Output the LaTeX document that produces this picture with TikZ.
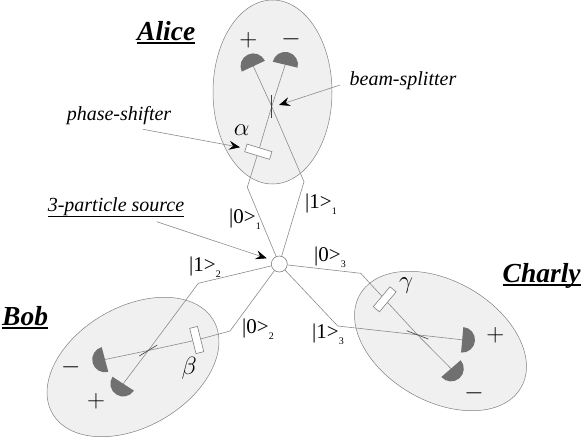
\documentclass[tikz,border=0pt]{standalone}
\usepackage{fontspec}
\setmainfont{Liberation Serif}
\usetikzlibrary{arrows.meta}
\definecolor{labfill}{gray}{0.94}
\definecolor{detfill}{gray}{0.44}
\definecolor{rayline}{gray}{0.55}
\newcommand{\ketlabel}[2]{|#1>\raisebox{-6pt}{\fontsize{10}{10}\selectfont #2}}
\newcommand{\ruled}[3]{\setbox0=\hbox{#1}\rlap{\rule[-#2]{\wd0}{#3}}\box0}
\newcommand{\detector}[2]{\fill[detfill] (#1) ++(#2:12.8) arc (#2:#2-180:12.8) -- cycle;}
\tikzset{
  lab/.style={draw=gray, fill=labfill, line width=0.5pt},
  ray/.style={draw=rayline, line width=0.6pt},
  splitter/.style={draw=black!75, line width=0.6pt},
  shifter/.style={draw=gray, fill=white, line width=0.6pt, minimum width=26pt, minimum height=8pt, inner sep=0pt},
  pointer/.style={draw=rayline, line width=0.6pt, -{Stealth[black, length=11pt, width=9pt, inset=4pt]}},
  party/.style={font=\fontsize{27.5}{28}\selectfont\bfseries\itshape, anchor=base west, inner sep=0pt},
  caption/.style={font=\fontsize{20}{20}\selectfont\itshape, inner sep=0pt},
  ket/.style={font=\fontsize{21}{21}\selectfont, inner sep=0pt},
  symb/.style={font=\fontsize{23}{23}\selectfont, inner sep=0pt}
}
\begin{document}
\begin{tikzpicture}[x=1pt, y=-1pt]
\useasboundingbox (0,0) rectangle (581,437);
\fill[white] (0,0) rectangle (581,437);
\draw[lab] (272.5,92) ellipse (59.5 and 92);
\draw[lab, rotate around={30:(133,367)}] (133,367) ellipse (93 and 60);
\draw[lab, rotate around={-30:(440.5,341)}] (440.5,341) ellipse (93 and 60);

\node[circle, draw=gray, fill=white, line width=0.6pt, minimum size=16pt, inner sep=0pt] (source) at (279.3,264) {};
\node[shifter, rotate=-17] (alicephase) at (258.3,151.7) {};
\node[shifter, rotate=-76] (bobphase) at (196.7,340) {};
\node[shifter, rotate=50] (charlyphase) at (384.7,299.3) {};

\coordinate (alicezero) at (247.3,187.3);
\coordinate (aliceone) at (304,181.7);
\coordinate (alicebs) at (271.7,106.5);
\coordinate (alicedetp) at (253.3,66.2);
\coordinate (alicedetm) at (285.2,64.7);
\coordinate (bobone) at (198.3,283.3);
\coordinate (bobzero) at (230,331);
\coordinate (bobbs) at (148.3,350.5);
\coordinate (bobdetm) at (105,359.5);
\coordinate (bobdetp) at (123.2,383.7);
\coordinate (charlyzero) at (360.7,273.3);
\coordinate (charlyone) at (337.7,326);
\coordinate (charlybs) at (417.5,334.8);
\coordinate (charlydetp) at (462.2,339.8);
\coordinate (charlydetm) at (451,368.6);

\draw[ray] (source) -- (alicezero) -- (alicephase) -- (alicebs) -- (alicedetm);
\draw[ray] (source) -- (aliceone) -- (alicebs) -- (alicedetp);
\draw[ray] (source) -- (bobone) -- (bobbs) -- (bobdetp);
\draw[ray] (source) -- (bobzero) -- (bobphase) -- (bobbs) -- (bobdetm);
\draw[ray] (source) -- (charlyzero) -- (charlyphase) -- (charlybs) -- (charlydetm);
\draw[ray] (source) -- (charlyone) -- (charlybs) -- (charlydetp);

\draw[splitter] (271.7,95) -- (271.7,118.3);
\draw[splitter] (139.3,356) -- (157.3,345);
\draw[splitter] (406.7,330.7) -- (428.3,339);

\detector{alicedetp}{-25}
\detector{alicedetm}{13.5}
\detector{bobdetm}{-105}
\detector{bobdetp}{213}
\detector{charlydetp}{95}
\detector{charlydetm}{139}

\node[party] (alice) at (137,40) {\ruled{Alice}{4pt}{2pt}};
\node[party] (bob) at (2,325) {\ruled{Bob}{4pt}{2pt}};
\node[party] (charly) at (502.5,282) {\ruled{Charly}{4pt}{2pt}};

\node[caption] (beamlabel) at (403,81) {beam-splitter};
\node[caption] (phaselabel) at (119,116) {phase-shifter};
\node[caption] (sourcelabel) at (116,207) {\ruled{3-particle source}{5pt}{0.9pt}};

\coordinate (beamfoot) at (340,85);
\coordinate (beamtip) at (279,105);
\coordinate (phasefoot) at (143,129.3);
\coordinate (phasetip) at (240,147.3);
\coordinate (sourcefoot) at (156.7,221.7);
\coordinate (sourcetip) at (266.7,258.3);
\draw[pointer] (beamfoot) -- (beamtip);
\draw[pointer] (phasefoot) -- (phasetip);
\draw[pointer] (sourcefoot) -- (sourcetip);

\node[ket] (ketaz) at (245,219) {\ketlabel{0}{1}};
\node[ket] (ketao) at (321,204) {\ketlabel{1}{1}};
\node[ket] (ketbo) at (205,267) {\ketlabel{1}{2}};
\node[ket] (ketbz) at (258,329) {\ketlabel{0}{2}};
\node[ket] (ketcz) at (330,257) {\ketlabel{0}{3}};
\node[ket] (ketco) at (328,334) {\ketlabel{1}{3}};

\node[symb] (aliceplus) at (248.3,40.7) {$+$};
\node[symb] (aliceminus) at (291,39) {$-$};
\node[symb] (alpha) at (241.7,130) {$\alpha$};
\node[symb] (bobminus) at (70.7,367.3) {$-$};
\node[symb] (bobplus) at (96,401) {$+$};
\node[symb] (beta) at (189.3,368.3) {$\beta$};
\node[symb] (charlyplus) at (495.3,335) {$+$};
\node[symb] (charlyminus) at (474,393.3) {$-$};
\node[symb] (gamma) at (406,285.7) {$\gamma$};
\end{tikzpicture}
\end{document}
